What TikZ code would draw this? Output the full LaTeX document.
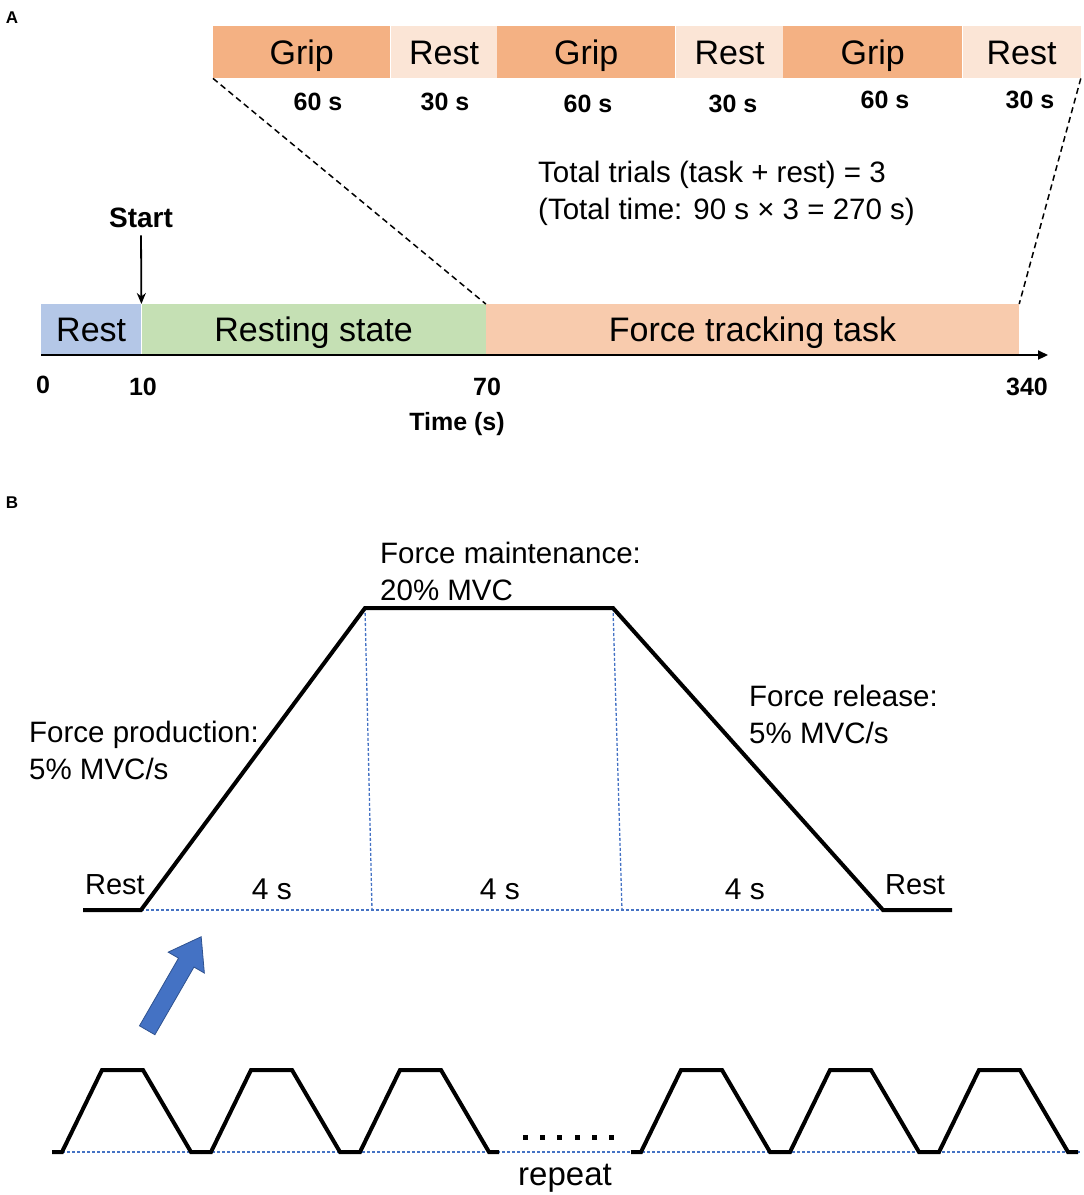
\documentclass[tikz,border=0pt]{standalone}
\usepackage{fontspec}
\setmainfont{Liberation Sans}
\usetikzlibrary{positioning,shapes.arrows,arrows.meta}

\definecolor{gripcol}{HTML}{F4B183}
\definecolor{restcol}{HTML}{FBE5D6}
\definecolor{restblue}{HTML}{B4C7E7}
\definecolor{stategreen}{HTML}{C5E0B4}
\definecolor{taskcol}{HTML}{F8CBAD}
\definecolor{guideblue}{HTML}{4472C4}
\definecolor{arrowedge}{HTML}{2F528F}

\def\baseB{910}
\def\baseC{1152}

\begin{document}
\begin{tikzpicture}[x=1pt,y=-1pt]
    \tikzstyle{phase}=[rectangle, inner sep=0pt, anchor=north west, text height=24.3pt, text depth=0pt, font=\fontsize{34}{40}\selectfont]
    \tikzstyle{grip phase}=[phase, fill=gripcol, minimum height=52pt]
    \tikzstyle{rest phase}=[phase, fill=restcol, minimum height=52pt]
    \tikzstyle{time phase}=[phase, minimum height=50pt]
    \tikzstyle{bold num}=[font=\bfseries\fontsize{25}{30}\selectfont]
    \tikzstyle{annot}=[font=\fontsize{29.5}{36.5}\selectfont, align=left, anchor=north west, inner sep=0pt]
    \tikzstyle{panel}=[font=\bfseries\fontsize{17}{19}\selectfont]
    \tikzstyle{zoom line}=[dash pattern=on 6pt off 4pt, line width=1.5pt]
    \tikzstyle{guide}=[draw=guideblue, dash pattern=on 3pt off 2pt, line width=1.3pt]
    \tikzstyle{profile}=[line width=4pt, line join=miter]

    \useasboundingbox (0,0) rectangle (1084,1195);

    % Panel letters
    \node[panel] (A) at (12,18) {A};
    \node[panel] (B) at (12,503) {B};

    % Draw the grip / rest blocks of the task
    \foreach \i/\x/\gw/\rw in {1/213/177/107, 2/497/178/108, 3/783/179/118}{
        \node[grip phase, minimum width=\gw pt] (G-\i) at (\x,26) {Grip};
        \node[rest phase, minimum width=\rw pt] (R-\i) at (G-\i.north east) {Rest};
    }

    % Durations under the blocks
    \foreach \x/\y/\t [count=\k] in {318/102/60 s, 445/102/30 s, 588/104/60 s, 733/104/30 s, 885/100/60 s, 1030/100/30 s}
        \node[bold num] (D-\k) at (\x,\y) {\t};

    \node[annot] (total) at (538,161) {Total trials (task + rest) = 3\\(Total time: 90 s × 3 = 270 s)};

    % Draw the time line
    \node[time phase, fill=restblue, minimum width=100pt] (T-rest) at (41,304) {Rest};
    \node[time phase, fill=stategreen, minimum width=344pt] (T-state) at (T-rest.north east) {Resting state};
    \node[time phase, fill=taskcol, minimum width=533pt] (T-task) at (T-state.north east) {Force tracking task};

    \coordinate (ax0) at (41,355);
    \coordinate (ax1) at (1048,355);
    \draw[line width=2.2pt, -{Triangle[length=10pt,width=9pt]}] (ax0) -- (ax1);

    \node[font=\bfseries\fontsize{28}{30}\selectfont] (start) at (141,218) {Start};
    \draw[line width=1.8pt, -{Stealth[length=11pt,width=9pt]}, shorten <=4pt] (start.south) -- (T-rest.north east);

    \foreach \x/\y/\t [count=\k] in {43/385/0, 143/387/10, 487/387/70, 1027/387/340}
        \node[bold num] (tick-\k) at (\x,\y) {\t};
    \node[bold num] (timelabel) at (457,424) {Time (s)};

    % Zoom lines from the task to its blocks
    \draw[zoom line] (G-1.south west) -- (T-task.north west);
    \draw[zoom line] (R-3.south east) -- (T-task.north east);

    % Panel B: one trial
    \coordinate (r0) at (83,\baseB);
    \coordinate (p0) at (141,\baseB);
    \coordinate (p1) at (365,608);
    \coordinate (p2) at (613,608);
    \coordinate (p3) at (883,\baseB);
    \coordinate (r1) at (952,\baseB);
    \coordinate (q1) at (372,\baseB);
    \coordinate (q2) at (622,\baseB);

    \draw[guide] (p0) -- (p3);
    \draw[guide] (p1) -- (q1);
    \draw[guide] (p2) -- (q2);
    \draw[profile] (r0) -- (p0) -- (p1) -- (p2) -- (p3) -- (r1);

    \node[annot] (maint) at (380,542) {Force maintenance:\\20\% MVC};
    \node[annot] (prod) at (29,721) {Force production:\\5\% MVC/s};
    \node[annot] (rel) at (749,685) {Force release:\\5\% MVC/s};
    \node[font=\fontsize{29}{32}\selectfont] (rest-l) at (115,885) {Rest};
    \node[font=\fontsize{29}{32}\selectfont] (rest-r) at (915,885) {Rest};
    \foreach \x [count=\k] in {272,500,745}
        \node[font=\fontsize{30}{32}\selectfont] (S-\k) at (\x,889) {4 s};

    \node[single arrow, fill=guideblue, draw=arrowedge, line width=0.8pt, inner sep=8.5pt,
          minimum height=108pt, single arrow head extend=12pt, single arrow tip angle=70,
          rotate=60] (push) at (171,989) {};

    % Repeated trials
    \coordinate (c0) at (52,\baseC);
    \coordinate (c1) at (1080,\baseC);
    \draw[guide] (c0) -- (c1);
    \foreach \x in {62,211,360,641,790,939}
        \draw[profile] (\x-10,\baseC) -- (\x,\baseC) -- ++(40,-82) -- ++(41,0) -- ++(48,82) -- ++(10,0);

    \foreach \x in {525,542,559,577,594,611}
        \fill (\x-2.5,1134.5) rectangle ++(5,5);
    \node[font=\fontsize{33}{36}\selectfont] (repeat) at (565,1178) {repeat};
\end{tikzpicture}
\end{document}
